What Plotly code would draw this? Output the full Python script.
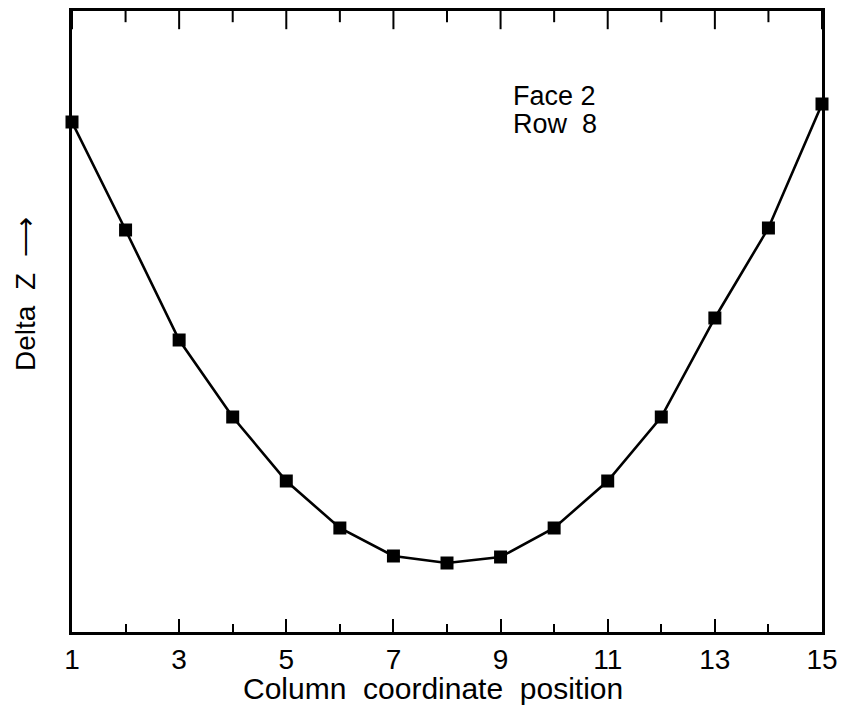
import plotly.graph_objects as go

columns = list(range(1, 16))
delta_z = [510, 402, 292, 215, 151, 104, 76, 69, 75, 104, 151, 215, 314, 404, 528]
tick_vals = [1, 3, 5, 7, 9, 11, 13, 15]
minor_tick_vals = [2, 4, 6, 8, 10, 12, 14]
tick_text = [str(v) for v in tick_vals]

FONT = "Liberation Sans"

# page body has an 8px margin; frame placed in screen pixels
L, T, R, B = 72, 11, 822, 632
OFF = 8
MAJOR_LEN, MINOR_LEN = 13, 8

fig = go.Figure()
fig.add_trace(go.Scatter(
    x=columns, y=delta_z, mode="lines+markers",
    line=dict(color="black", width=2.6),
    marker=dict(symbol="square", size=13, color="black"),
    cliponaxis=False, showlegend=False,
))
# top-edge inward ticks (frame decoration), clipped to the plot area
for vals, ln in ((tick_vals, MAJOR_LEN), (minor_tick_vals, MINOR_LEN)):
    fig.add_trace(go.Scatter(
        x=vals, y=[1] * len(vals), yaxis="y2", mode="markers",
        marker=dict(symbol="line-ns", size=2 * ln, color="black",
                    line=dict(width=2, color="black")),
        cliponaxis=True, showlegend=False, hoverinfo="skip",
    ))

def px(x):
    return (x - L) / (R - L)

def py(y):
    return (B - y) / (B - T)

fig.update_layout(
    width=845 - OFF, height=707 - OFF,
    margin=dict(l=L - OFF, r=845 - R, t=T - OFF, b=707 - B, autoexpand=False),
    paper_bgcolor="white", plot_bgcolor="white",
    font=dict(family=FONT, color="black"),
    xaxis=dict(
        range=[1, 15], tickvals=tick_vals, ticktext=tick_text,
        ticks="inside", ticklen=MAJOR_LEN, tickwidth=2, tickcolor="black",
        minor=dict(dtick=1, tick0=0, ticks="inside", ticklen=MINOR_LEN, tickwidth=2, tickcolor="black"),
        showgrid=False, zeroline=False,
        showline=True, linewidth=3, linecolor="black", mirror=True,
        tickfont=dict(size=28, family=FONT),
    ),
    yaxis=dict(
        range=[0, B - T], showticklabels=False, ticks="",
        showline=True, linewidth=3, linecolor="black", mirror=True,
        showgrid=False, zeroline=False,
    ),
    yaxis2=dict(
        range=[0, 1], overlaying="y", showticklabels=False, ticks="",
        showline=False, showgrid=False, zeroline=False, visible=False,
    ),
    annotations=[
        dict(text="Column  coordinate  position", xref="paper", yref="paper",
             x=px(433), y=py(688), xanchor="center", yanchor="middle",
             showarrow=False, font=dict(size=30, family=FONT)),
        dict(text="Face 2", xref="paper", yref="paper",
             x=px(511), y=py(96), xanchor="left", yanchor="middle",
             showarrow=False, align="left", font=dict(size=27, family=FONT)),
        dict(text="Row  8", xref="paper", yref="paper",
             x=px(511), y=py(124), xanchor="left", yanchor="middle",
             showarrow=False, align="left", font=dict(size=27, family=FONT)),
        dict(text="Delta  Z  ⟶", xref="paper", yref="paper",
             x=px(25), y=py(294), xanchor="center", yanchor="middle",
             textangle=-90, showarrow=False, font=dict(size=28, family=FONT)),
    ],
)

fig.write_html("out.html")
